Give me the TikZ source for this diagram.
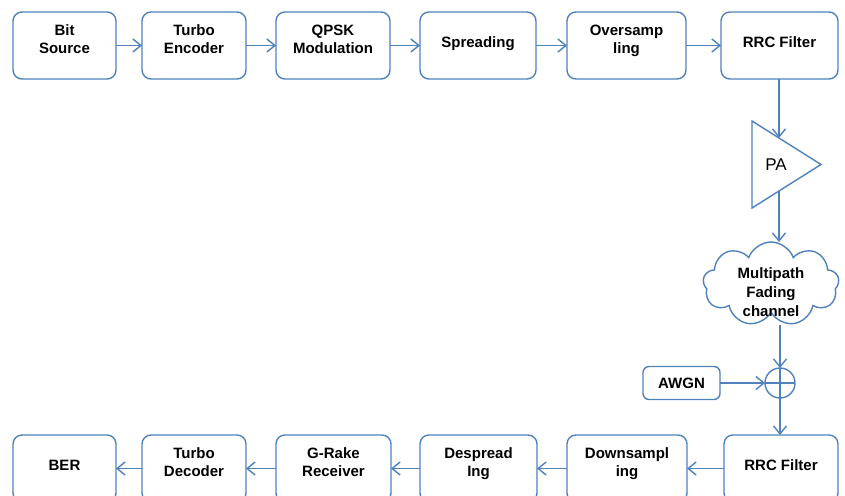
\documentclass[tikz,border=0pt]{standalone}
\usepackage{fontspec}
\setmainfont{Liberation Sans}
\usetikzlibrary{positioning,calc,shapes.geometric,shapes.symbols,arrows.meta}
\definecolor{lineblue}{RGB}{79,129,189}
\begin{document}
\begin{tikzpicture}[
blk/.style={rectangle, rounded corners=9pt, draw=lineblue, line width=1.4pt, outer sep=0pt, align=center, font=\fontsize{15}{18}\selectfont\bfseries, inner sep=2pt},
stage/.style={blk, minimum height=67pt, text depth=13pt},
oneline/.style={text depth=6pt},
pa/.style={isosceles triangle, isosceles triangle stretches, draw=lineblue, line width=1.4pt, outer sep=0pt, minimum width=87pt, minimum height=69pt, inner sep=0pt, font=\fontsize{17}{20}\selectfont},
chan/.style={cloud, cloud puffs=9, cloud puff arc=140, draw=lineblue, line width=1.4pt, outer sep=0pt, minimum width=136pt, minimum height=84pt, inner sep=0pt},
chantext/.style={align=center, font=\fontsize{15}{19}\selectfont\bfseries, inner sep=0pt},
sum/.style={circle, draw=lineblue, line width=1.4pt, outer sep=0pt, minimum size=30pt, inner sep=0pt, path picture={\draw[lineblue, line width=1.4pt] (path picture bounding box.north) -- (path picture bounding box.south) (path picture bounding box.west) -- (path picture bounding box.east);}},
arr/.style={draw=lineblue, line width=1.4pt, -{Straight Barb[length=8pt, width=13pt]}}
]
\useasboundingbox (0,0) rectangle (845pt,-495pt);
%Nodes
\node[stage, minimum width=103pt] (src) at (64.5pt,-45.5pt) {Bit\\Source};
\node[stage, minimum width=104pt] (enc)   [right=26pt of src]  {Turbo\\Encoder};
\node[stage, minimum width=114pt] (qpsk)  [right=30pt of enc]  {QPSK\\Modulation};
\node[stage, oneline, minimum width=116pt] (spr)   [right=30pt of qpsk] {Spreading};
\node[stage, minimum width=119pt] (ovs)   [right=31pt of spr]  {Oversamp\\ling};
\node[stage, oneline, minimum width=117pt] (rrctx) [right=35pt of ovs]  {RRC Filter};
\node[pa, anchor=lower side] (amp) at (752pt,-164.5pt) {PA};
\coordinate (ampin)  at ($(amp.left corner)!0.391!(amp.apex)$);
\coordinate (ampout) at ($(amp.right corner)!0.391!(amp.apex)$);
\node[chan] (fade) at (771pt,-284pt) {};
\coordinate (fadebot) at ([yshift=-41pt]fade.center);
\node[chantext] (fadetxt) [below=-17pt of fade.center] {Multipath\\Fading\\channel};
\node[sum] (add) at (780pt,-383pt) {};
\node[blk, minimum width=77pt, minimum height=33pt, rounded corners=6pt] (awgn) [left=45pt of add] {AWGN};
\node[stage, oneline, minimum width=114pt] (rrcrx) at (781pt,-468.5pt) {RRC Filter};
\node[stage, minimum width=120pt] (dws)  [left=37pt of rrcrx] {Downsampl\\ing};
\node[stage, minimum width=117pt] (desp) [left=30pt of dws]   {Despread\\Ing};
\node[stage, minimum width=115pt] (rake) [left=29pt of desp]  {G-Rake\\Receiver};
\node[stage, minimum width=104pt] (dec)  [left=30pt of rake]  {Turbo\\Decoder};
\node[stage, oneline, minimum width=103pt] (ber)  [left=26pt of dec]   {BER};
%Lines
\draw[arr] (src) -- (enc);
\draw[arr] (enc) -- (qpsk);
\draw[arr] (qpsk) -- (spr);
\draw[arr] (spr) -- (ovs);
\draw[arr] (ovs) -- (rrctx);
\draw[arr] (ampin |- rrctx.south) -- (ampin);
\draw[arr] (ampout) -- (ampout |- fade.north);
\draw[arr] (add |- fadebot) -- (add);
\draw[arr] (awgn) -- (add);
\draw[arr] (add) -- (add |- rrcrx.north);
\draw[arr] (rrcrx) -- (dws);
\draw[arr] (dws) -- (desp);
\draw[arr] (desp) -- (rake);
\draw[arr] (rake) -- (dec);
\draw[arr] (dec) -- (ber);
\end{tikzpicture}
\end{document}
